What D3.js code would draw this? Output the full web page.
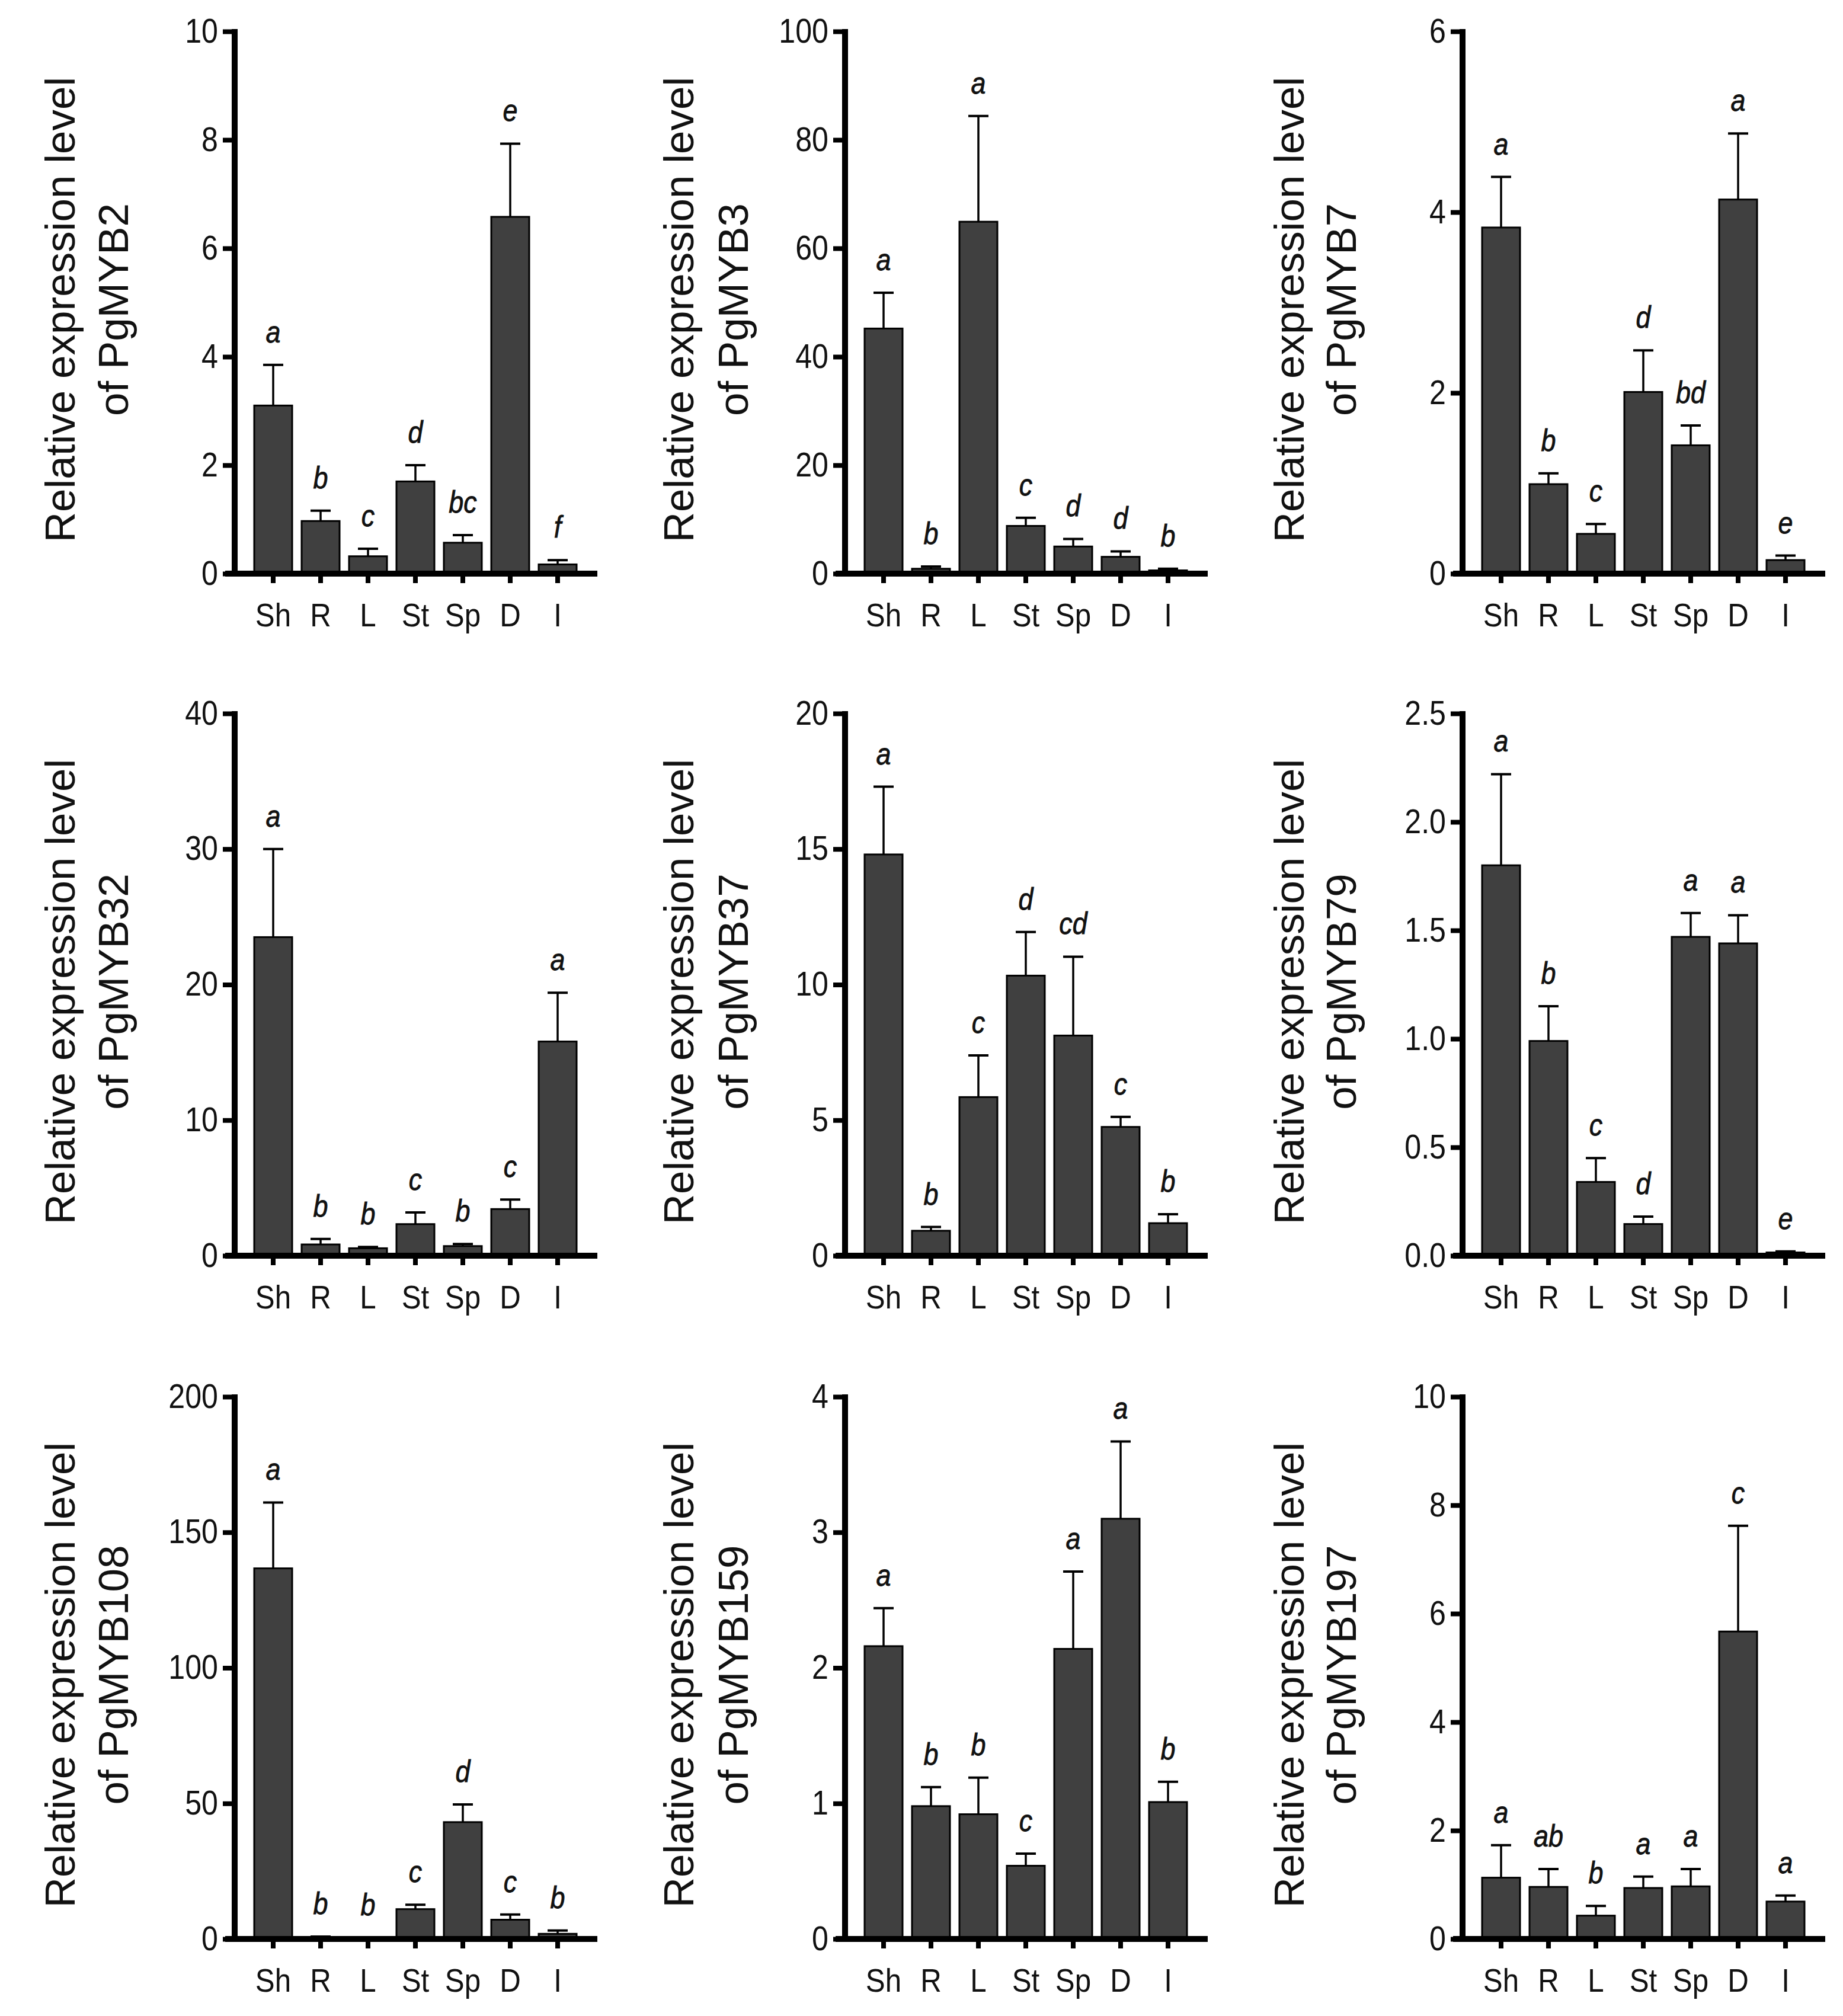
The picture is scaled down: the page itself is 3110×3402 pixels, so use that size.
<!DOCTYPE html>
<html>
<head>
<meta charset="utf-8">
<script src="https://cdn.jsdelivr.net/npm/d3@7"></script>
<style>
  body { margin: 0; background: #fff; }
  svg { display: block; font-family: "Liberation Sans", Arial, sans-serif; }
</style>
</head>
<body>
<script>
// tissues on the x axis
const tissues = ['Sh', 'R', 'L', 'St', 'Sp', 'D', 'I'];

// one entry per panel, read left-to-right, top-to-bottom
const genes = ['PgMYB2', 'PgMYB3', 'PgMYB7', 'PgMYB32', 'PgMYB37', 'PgMYB79', 'PgMYB108', 'PgMYB159', 'PgMYB197'];

// mean relative expression
const means = [
    [3.10, 0.97, 0.32, 1.70, 0.57, 6.58, 0.17],
    [45.2, 0.9, 64.9, 8.8, 5.0, 3.1, 0.6],
    [3.83, 0.99, 0.44, 2.01, 1.42, 4.14, 0.15],
    [23.5, 0.83, 0.55, 2.33, 0.71, 3.44, 15.8],
    [14.8, 0.92, 5.85, 10.33, 8.12, 4.75, 1.20],
    [1.80, 0.99, 0.34, 0.146, 1.47, 1.44, 0.015],
    [136.7, 0.6, 0.3, 11.0, 43.1, 7.1, 1.9],
    [2.16, 0.98, 0.92, 0.54, 2.14, 3.10, 1.01],
    [1.13, 0.96, 0.43, 0.94, 0.97, 5.67, 0.69]
];

// top of the error bar (mean + SD)
const upper = [
    [3.85, 1.16, 0.46, 2.00, 0.71, 7.93, 0.25],
    [51.8, 1.3, 84.4, 10.3, 6.4, 4.1, 0.9],
    [4.39, 1.11, 0.55, 2.47, 1.64, 4.87, 0.20],
    [30.0, 1.23, 0.64, 3.19, 0.86, 4.14, 19.4],
    [17.3, 1.06, 7.39, 11.94, 11.03, 5.12, 1.53],
    [2.22, 1.15, 0.45, 0.18, 1.58, 1.57, 0.02],
    [161, 0.9, 0.45, 12.6, 49.6, 9.0, 3.1],
    [2.44, 1.12, 1.19, 0.63, 2.71, 3.67, 1.16],
    [1.73, 1.29, 0.61, 1.15, 1.29, 7.62, 0.80]
];

// significance letters
const letters = [
    ['a', 'b', 'c', 'd', 'bc', 'e', 'f'],
    ['a', 'b', 'a', 'c', 'd', 'd', 'b'],
    ['a', 'b', 'c', 'd', 'bd', 'a', 'e'],
    ['a', 'b', 'b', 'c', 'b', 'c', 'a'],
    ['a', 'b', 'c', 'd', 'cd', 'c', 'b'],
    ['a', 'b', 'c', 'd', 'a', 'a', 'e'],
    ['a', 'b', 'b', 'c', 'd', 'c', 'b'],
    ['a', 'b', 'b', 'c', 'a', 'a', 'b'],
    ['a', 'ab', 'b', 'a', 'a', 'c', 'a']
];

// y axis extent and tick step
const yMax = [10, 100, 6, 40, 20, 2.5, 200, 4, 10];
const yStep = [2, 20, 2, 10, 5, 0.5, 50, 1, 2];

// layout
const W = 3110, H = 3402;
const colAxisX = [396, 1426, 2468];
const rowTop = [53, 1204, 2357];
const plotH = 915;
const titleX = [[126, 216], [1170, 1262], [2200, 2288]];
const ink = '#111';
const squeeze = 0.88;   // source figure text is slightly narrow

const svg = d3.select('body').append('svg')
    .attr('width', W).attr('height', H);

genes.forEach((gene, i) => {
    const col = i % 3, row = Math.floor(i / 3);
    const ax = colAxisX[col], top = rowTop[row], zero = top + plotH;

    const x = d3.scaleBand()
        .domain(tissues)
        .range([ax + 25, ax + 585])
        .paddingInner(0.2).paddingOuter(0.1);
    const y = d3.scaleLinear().domain([0, yMax[i]]).range([zero, top]);

    const g = svg.append('g').classed('panel', true);
    const rows = tissues.map((t, j) => ({t, v: means[i][j], e: upper[i][j], l: letters[i][j]}));

    // bars
    g.selectAll('rect.bar').data(rows).join('rect')
        .classed('bar', true)
        .attr('x', d => x(d.t))
        .attr('width', x.bandwidth())
        .attr('y', d => y(d.v))
        .attr('height', d => y(0) - y(d.v))
        .attr('fill', '#404040')
        .attr('stroke', '#000')
        .attr('stroke-width', 3);

    // error bars (upper only)
    const cx = d => x(d.t) + x.bandwidth() / 2;
    g.selectAll('line.err').data(rows).join('line')
        .classed('err', true)
        .attr('x1', cx).attr('x2', cx)
        .attr('y1', d => y(d.v)).attr('y2', d => y(d.e))
        .attr('stroke', '#000').attr('stroke-width', 3.5);
    g.selectAll('line.cap').data(rows).join('line')
        .classed('cap', true)
        .attr('x1', d => cx(d) - 17).attr('x2', d => cx(d) + 17)
        .attr('y1', d => y(d.e)).attr('y2', d => y(d.e))
        .attr('stroke', '#000').attr('stroke-width', 4);

    // letters
    g.selectAll('text.sig').data(rows).join('text')
        .classed('sig', true)
        .attr('transform', d => `translate(${cx(d)},${y(d.e) - 38}) scale(${squeeze},1)`)
        .attr('text-anchor', 'middle')
        .attr('font-size', 51)
        .attr('font-style', 'italic')
        .attr('fill', ink)
        .attr('stroke', ink).attr('stroke-width', 0.8)
        .text(d => d.l);

    // y axis
    const fmt = yStep[i] < 1 ? d3.format('.1f') : d3.format('d');
    const yAxis = g.append('g')
        .attr('transform', `translate(${ax},0)`)
        .call(d3.axisLeft(y)
            .tickValues(d3.range(0, yMax[i] + yStep[i] / 2, yStep[i]))
            .tickFormat(fmt)
            .tickSize(20).tickSizeOuter(0).tickPadding(8));
    yAxis.select('.domain').remove();
    yAxis.selectAll('.tick line').attr('stroke', '#000').attr('stroke-width', 8);
    yAxis.selectAll('.tick text')
        .attr('x', -28 / squeeze)
        .attr('transform', `scale(${squeeze},1)`)
        .attr('font-size', 57).attr('fill', ink)
        .attr('font-family', '"Liberation Sans", Arial, sans-serif');
    g.append('line')
        .attr('x1', ax).attr('x2', ax)
        .attr('y1', y(0) + 5).attr('y2', y(yMax[i]) - 4)
        .attr('stroke', '#000').attr('stroke-width', 10);

    // x axis
    const xAxis = g.append('g')
        .attr('transform', `translate(0,${zero})`)
        .call(d3.axisBottom(x).tickSize(16).tickSizeOuter(0));
    xAxis.select('.domain').remove();
    xAxis.selectAll('.tick line').attr('stroke', '#000').attr('stroke-width', 8);
    xAxis.selectAll('.tick text')
        .attr('y', 89).attr('dy', null)
        .attr('transform', `scale(${squeeze},1)`)
        .attr('font-size', 56).attr('fill', ink)
        .attr('font-family', '"Liberation Sans", Arial, sans-serif');
    g.append('line')
        .attr('x1', ax - 16).attr('x2', ax + 612)
        .attr('y1', zero).attr('y2', zero)
        .attr('stroke', '#000').attr('stroke-width', 10);

    // y title, two lines
    const cy = (top + zero) / 2 + 12;
    ['Relative expression level', 'of ' + gene].forEach((s, k) => {
        g.append('text')
            .attr('transform', `translate(${titleX[col][k]},${cy}) rotate(-90)`)
            .attr('text-anchor', 'middle')
            .attr('font-size', 71)
            .attr('fill', ink)
            .text(s);
    });
});
</script>
</body>
</html>
